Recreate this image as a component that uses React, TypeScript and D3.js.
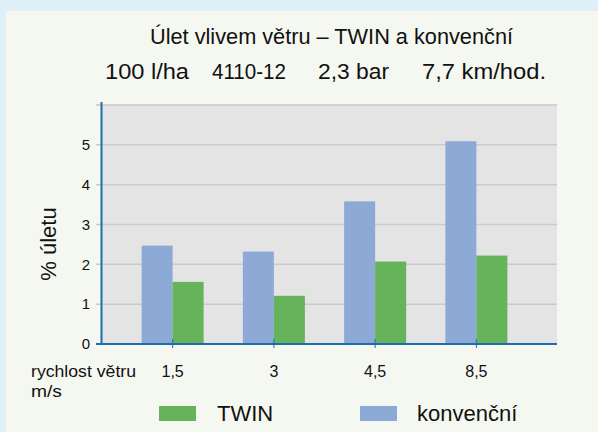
import React from "react";
import * as d3 from "d3";

const categories = ["1,5", "3", "4,5", "8,5"];
const seriesNames = ["konvenční", "TWIN"];
const konvencni = [2.47, 2.32, 3.58, 5.09];
const twin = [1.56, 1.21, 2.07, 2.22];
const yTicks = [0, 1, 2, 3, 4, 5];
const gridTicks = [1, 2, 3, 4, 5, 6];

const W = 598;
const H = 432;
const plot = { left: 101, right: 557, top: 105, bottom: 344 };
const COLORS: Record<string, string> = { "konvenční": "#8DA9D5", TWIN: "#67B35B" };
const FONT = "'Liberation Sans', Arial, Helvetica, sans-serif";

export default function App() {
  const y = d3.scaleLinear().domain([0, 6]).range([plot.bottom, plot.top]);
  const x0 = d3.scaleBand<string>().domain(categories).range([122, 527]);
  const barW = 31;
  const values: Record<string, number[]> = { "konvenční": konvencni, TWIN: twin };

  return (
    <svg width={W} height={H} style={{ position: "absolute", left: 0, top: 0, display: "block" }}>
      <rect x={0} y={0} width={W} height={H} fill="#DFF0F8" />
      <rect x={6} y={11} width={W - 6} height={H - 11} fill="#F5F8F0" />
      {/* titles */}
      <text x={150} y={44} fontFamily={FONT} fontSize={22} fill="#111" textLength={363} lengthAdjust="spacingAndGlyphs">
        Úlet vlivem větru – TWIN a konvenční
      </text>
      {[
        { t: "100 l/ha", x: 105, w: 84 },
        { t: "4110-12", x: 212, w: 74 },
        { t: "2,3 bar", x: 318, w: 71 },
        { t: "7,7 km/hod.", x: 422, w: 124 },
      ].map((d) => (
        <text key={d.t} x={d.x} y={79} fontFamily={FONT} fontSize={22} fill="#111" textLength={d.w} lengthAdjust="spacingAndGlyphs">
          {d.t}
        </text>
      ))}
      {/* plot background */}
      <rect x={plot.left} y={plot.top} width={plot.right - plot.left} height={plot.bottom - plot.top} fill="#E3E4E3" />
      {gridTicks.map((t) => (
        <line key={t} x1={96} x2={plot.right} y1={y(t)} y2={y(t)} stroke="#C9CAC9" strokeWidth={1.5} />
      ))}
      {/* bars */}
      {categories.map((c, i) => {
        const cx = (x0(c) as number) + x0.bandwidth() / 2;
        const x1 = d3.scaleBand<string>().domain(seriesNames).range([cx - barW, cx + barW]);
        return (
          <g key={c}>
            {seriesNames.map((s) => (
              <rect
                key={s}
                x={x1(s)}
                width={x1.bandwidth()}
                y={y(values[s][i])}
                height={y(0) - y(values[s][i])}
                fill={COLORS[s]}
              />
            ))}
          </g>
        );
      })}
      {/* axes */}
      <line x1={plot.left + 0.5} x2={plot.left + 0.5} y1={102} y2={plot.bottom + 1} stroke="#1B6FAE" strokeWidth={2} />
      <line x1={96} x2={plot.right} y1={plot.bottom} y2={plot.bottom} stroke="#1B6FAE" strokeWidth={2.2} />
      {categories.map((c) => {
        const cx = (x0(c) as number) + x0.bandwidth() / 2;
        return (
          <g key={c}>
            <line x1={cx} x2={cx} y1={339} y2={348} stroke="#1B6FAE" strokeWidth={1} />
            <text x={cx} y={377} textAnchor="middle" fontFamily={FONT} fontSize={16} fill="#111">
              {c}
            </text>
          </g>
        );
      })}
      {yTicks.map((t) => (
        <text key={t} x={90} y={y(t)} dy="0.35em" textAnchor="end" fontFamily={FONT} fontSize={15} fill="#111">
          {t}
        </text>
      ))}
      <text
        transform={`translate(56,244) rotate(-90)`}
        textAnchor="middle"
        fontFamily={FONT}
        fontSize={22}
        fill="#111"
      >
        % úletu
      </text>
      <text x={31} y={377} fontFamily={FONT} fontSize={16} fill="#111" textLength={105} lengthAdjust="spacingAndGlyphs">
        rychlost větru
      </text>
      <text x={31} y={397} fontFamily={FONT} fontSize={16} fill="#111" textLength={31} lengthAdjust="spacingAndGlyphs">
        m/s
      </text>
      {/* legend */}
      {[
        { s: "TWIN", rx: 159, tx: 217 },
        { s: "konvenční", rx: 360, tx: 417 },
      ].map((d) => (
        <g key={d.s}>
          <rect x={d.rx} y={406} width={37} height={15} fill={COLORS[d.s]} />
          <text x={d.tx} y={421} fontFamily={FONT} fontSize={22} fill="#111">
            {d.s}
          </text>
        </g>
      ))}
    </svg>
  );
}
